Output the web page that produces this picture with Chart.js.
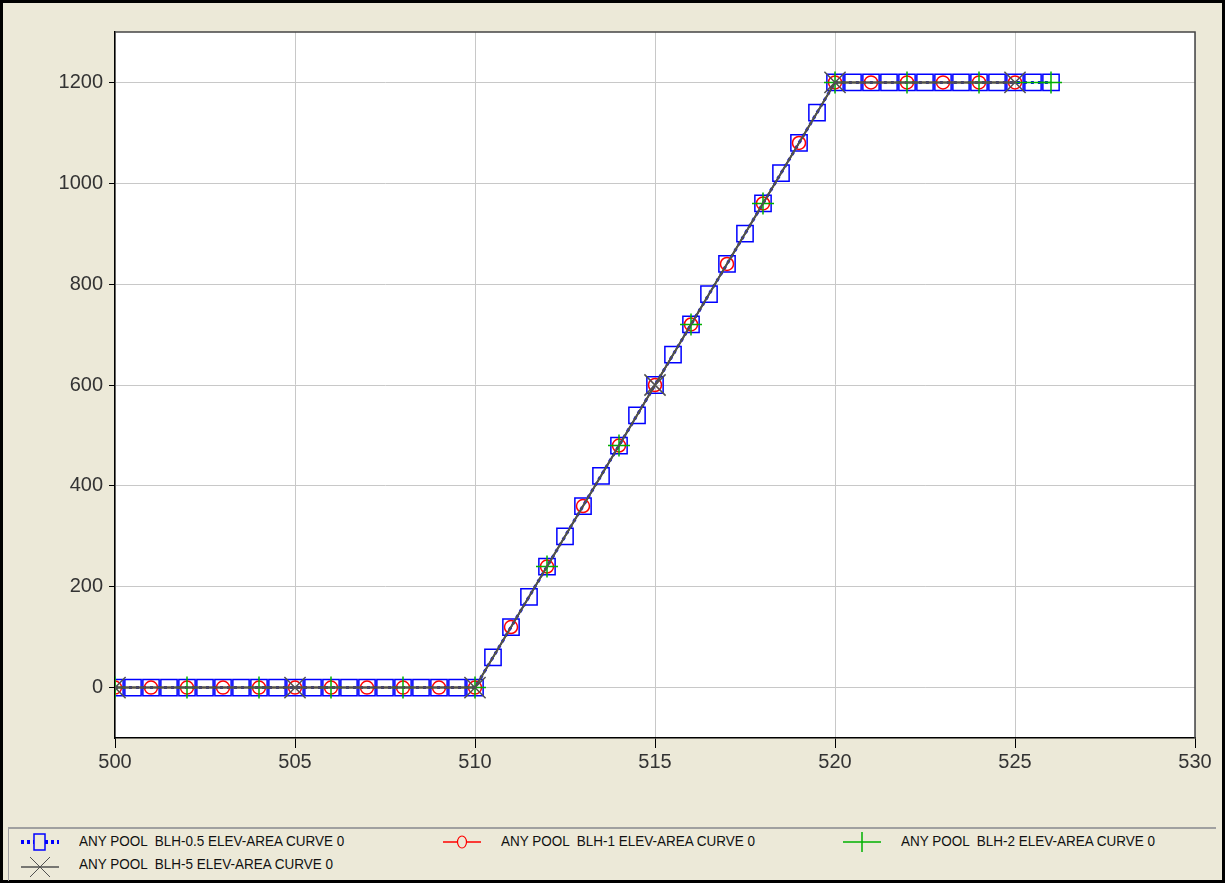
<!DOCTYPE html>
<html>
<head>
<meta charset="utf-8">
<script src="https://cdn.jsdelivr.net/npm/chart.js@4.4.0/dist/chart.umd.min.js"></script>
<style>
  html, body { margin: 0; padding: 0; }
  body {
    width: 1225px; height: 883px; background: #ece9d8; position: relative;
    overflow: hidden; font-family: "Liberation Sans", Arial, sans-serif;
  }
  #frame {
    position: absolute; left: 0; top: 0; width: 1219px; height: 877px;
    border: 3px solid #000;
  }
  #chart { position: absolute; left: 0; top: 0; }
  #legend {
    position: absolute; left: 8px; top: 827px; width: 1207px; height: 52px;
    border-top: 2px solid #a0a0a0; border-left: 1px solid #a0a0a0;
    font-size: 13.5px; color: #111;
  }
  .item { position: absolute; height: 20px; line-height: 20px; white-space: pre; }
  .item svg { position: absolute; left: 0; top: 0; }
  .item span { position: absolute; left: 60px; transform: scaleY(1.05); }
</style>
</head>
<body>
<div id="frame"></div>
<canvas id="chart" width="1225" height="826"></canvas>
<div id="legend"></div>
<script>
const X_TICKS = [500, 505, 510, 515, 520, 525, 530];
const Y_TICKS = [0, 200, 400, 600, 800, 1000, 1200];

const BLH05_ELEV = [500, 500.5, 501, 501.5, 502, 502.5, 503, 503.5, 504, 504.5, 505, 505.5, 506, 506.5, 507, 507.5, 508, 508.5, 509, 509.5, 510,
  510.5, 511, 511.5, 512, 512.5, 513, 513.5, 514, 514.5, 515, 515.5, 516, 516.5, 517, 517.5, 518, 518.5, 519, 519.5, 520,
  520.5, 521, 521.5, 522, 522.5, 523, 523.5, 524, 524.5, 525, 525.5, 526];
const BLH05_AREA = [0, 0, 0, 0, 0, 0, 0, 0, 0, 0, 0, 0, 0, 0, 0, 0, 0, 0, 0, 0, 0,
  60, 120, 180, 240, 300, 360, 420, 480, 540, 600, 660, 720, 780, 840, 900, 960, 1020, 1080, 1140, 1200,
  1200, 1200, 1200, 1200, 1200, 1200, 1200, 1200, 1200, 1200, 1200, 1200];

const BLH1_ELEV = [500, 501, 502, 503, 504, 505, 506, 507, 508, 509, 510, 511, 512, 513, 514, 515, 516, 517, 518, 519, 520, 521, 522, 523, 524, 525];
const BLH1_AREA = [0, 0, 0, 0, 0, 0, 0, 0, 0, 0, 0, 120, 240, 360, 480, 600, 720, 840, 960, 1080, 1200, 1200, 1200, 1200, 1200, 1200];

const BLH2_ELEV = [500, 502, 504, 506, 508, 510, 512, 514, 516, 518, 520, 522, 524, 526];
const BLH2_AREA = [0, 0, 0, 0, 0, 0, 240, 480, 720, 960, 1200, 1200, 1200, 1200];

const BLH5_ELEV = [500, 505, 510, 515, 520, 525];
const BLH5_AREA = [0, 0, 0, 600, 1200, 1200];

const SERIES = [
  { label: "ANY POOL  BLH-0.5 ELEV-AREA CURVE 0", elev: BLH05_ELEV, area: BLH05_AREA, color: "#0000ff", style: "rect", radius: 11.5, dash: [3, 4], width: 3, order: 4 },
  { label: "ANY POOL  BLH-1 ELEV-AREA CURVE 0", elev: BLH1_ELEV, area: BLH1_AREA, color: "#ff0000", style: "circle", radius: 6.5, dash: [], width: 1.5, order: 3 },
  { label: "ANY POOL  BLH-2 ELEV-AREA CURVE 0", elev: BLH2_ELEV, area: BLH2_AREA, color: "#00b000", style: "cross", radius: 11, dash: [], width: 1.5, order: 2 },
  { label: "ANY POOL  BLH-5 ELEV-AREA CURVE 0", elev: BLH5_ELEV, area: BLH5_AREA, color: "#505050", style: "crossRot", radius: 15, dash: [], width: 2, order: 1 },
];

function toPoints(s) {
  return s.elev.map((x, i) => ({ x: x, y: s.area[i] }));
}

const datasets = SERIES.map((s) => ({
  label: s.label,
  data: toPoints(s),
  borderColor: s.color,
  borderWidth: s.width,
  borderDash: s.dash,
  pointStyle: s.style,
  pointRadius: s.radius,
  pointBorderColor: s.color,
  pointBackgroundColor: "rgba(0,0,0,0)",
  pointBorderWidth: 1.5,
  tension: 0,
  order: s.order,
}));

const plotFrame = {
  id: "plotFrame",
  beforeDraw(chart) {
    const a = chart.chartArea;
    const ctx = chart.ctx;
    ctx.save();
    ctx.fillStyle = "#fff";
    ctx.fillRect(a.left, a.top, a.right - a.left, a.bottom - a.top);
    ctx.restore();
  },
  afterDraw(chart) {
    const a = chart.chartArea;
    const ctx = chart.ctx;
    ctx.save();
    ctx.strokeStyle = "#444";
    ctx.lineWidth = 1.5;
    ctx.beginPath();
    ctx.moveTo(a.left, a.top);
    ctx.lineTo(a.right, a.top);
    ctx.lineTo(a.right, a.bottom);
    ctx.stroke();
    ctx.restore();
  },
};

new Chart(document.getElementById("chart").getContext("2d"), {
  type: "line",
  data: { datasets: datasets },
  plugins: [plotFrame],
  options: {
    responsive: false,
    animation: false,
    layout: { padding: { left: 0, top: 32, right: 30, bottom: 0 } },
    plugins: { legend: { display: false }, tooltip: { enabled: false } },
    scales: {
      x: {
        type: "linear",
        min: 500,
        max: 530,
        afterBuildTicks: (scale) => { scale.ticks = X_TICKS.map((v) => ({ value: v })); },
        afterFit: (scale) => { scale.height = 88; },
        grid: { color: "#c8c8c8", lineWidth: 1, tickColor: "#000", tickLength: 10 },
        border: { color: "#000", width: 1.5 },
        ticks: { color: "#333", font: { family: "Liberation Sans", size: 20 }, padding: 2, maxRotation: 0, callback: (v) => String(v) },
      },
      y: {
        type: "linear",
        min: -100,
        max: 1300,
        afterBuildTicks: (scale) => { scale.ticks = Y_TICKS.map((v) => ({ value: v })); },
        afterFit: (scale) => { scale.width = 115; },
        grid: { color: "#c8c8c8", lineWidth: 1, tickColor: "#000", tickLength: 6 },
        border: { color: "#000", width: 1.5 },
        ticks: { color: "#333", font: { family: "Liberation Sans", size: 20 }, padding: 6, callback: (v) => String(v) },
      },
    },
  },
});

// legend
const ICONS = [
  '<svg width="42" height="20"><line x1="2" y1="10" x2="40" y2="10" stroke="#0000ff" stroke-width="4" stroke-dasharray="3,3"/><rect x="15" y="2" width="11" height="16" fill="#ece9d8" stroke="#0000ff" stroke-width="1.5"/></svg>',
  '<svg width="42" height="20"><line x1="2" y1="10" x2="40" y2="10" stroke="#ff0000" stroke-width="1.5"/><ellipse cx="21" cy="10" rx="4.5" ry="6" fill="#ece9d8" stroke="#ff0000" stroke-width="1.2"/></svg>',
  '<svg width="42" height="20"><line x1="2" y1="10" x2="40" y2="10" stroke="#00b000" stroke-width="1.5"/><line x1="21" y1="0" x2="21" y2="20" stroke="#00b000" stroke-width="1.5"/></svg>',
  '<svg width="42" height="24"><line x1="2" y1="12" x2="40" y2="12" stroke="#505050" stroke-width="1.5"/><line x1="11" y1="2" x2="31" y2="22" stroke="#505050" stroke-width="1"/><line x1="31" y1="2" x2="11" y2="22" stroke="#505050" stroke-width="1"/></svg>',
];
const LEGEND_POS = [[10, 3], [432, 3], [832, 3], [10, 26]];
const legend = document.getElementById("legend");
SERIES.forEach((s, i) => {
  const div = document.createElement("div");
  div.className = "item";
  div.style.left = LEGEND_POS[i][0] + "px";
  div.style.top = LEGEND_POS[i][1] + "px";
  div.innerHTML = ICONS[i] + "<span>" + s.label + "</span>";
  legend.appendChild(div);
});
</script>
</body>
</html>
